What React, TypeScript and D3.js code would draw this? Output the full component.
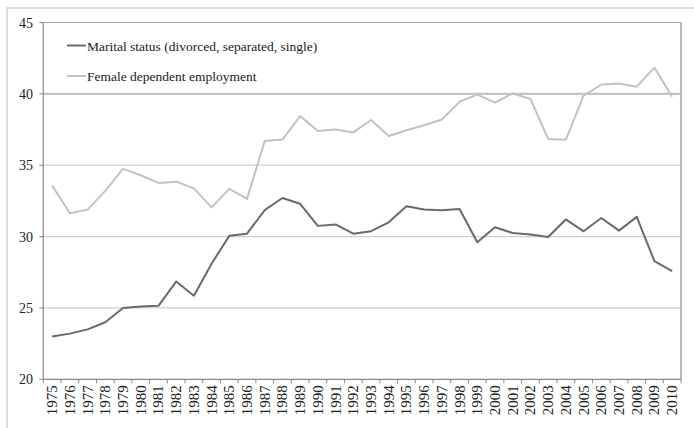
import React from "react";
import * as d3 from "d3";

const years: string[] = d3.range(1975, 2011).map(String);

const maritalStatus: number[] = [
  23.0, 23.2, 23.5, 24.0, 25.0, 25.1, 25.15, 26.85, 25.86, 28.1,
  30.05, 30.2, 31.85, 32.7, 32.3, 30.75, 30.85, 30.2, 30.38, 31.0,
  32.12, 31.9, 31.85, 31.93, 29.6, 30.65, 30.25, 30.15, 29.97, 31.2,
  30.37, 31.3, 30.42, 31.38, 28.28, 27.58,
];

const femaleEmployment: number[] = [
  33.57, 31.63, 31.89, 33.2, 34.74, 34.3, 33.76, 33.85, 33.38, 32.05,
  33.34, 32.64, 36.7, 36.8, 38.45, 37.4, 37.5, 37.3, 38.17, 37.05,
  37.45, 37.8, 38.2, 39.45, 39.95, 39.38, 40.03, 39.64, 36.84, 36.79,
  39.87, 40.65, 40.72, 40.5, 41.84, 39.8,
];

const yTicks: number[] = [20, 25, 30, 35, 40, 45];

const seriesNames = [
  "Marital status (divorced, separated, single)",
  "Female dependent employment",
];

const W = 694;
const H = 428;
const L = 43.3;
const R = 681;
const T = 22.5;
const B = 379.3;
const FONT = '"Liberation Serif", "DejaVu Serif", "Times New Roman", serif';

export default function App() {
  const x = d3.scaleBand<string>().domain(years).range([L, R]).padding(0);
  const y = d3.scaleLinear().domain([20, 45]).range([B, T]);
  const cx = (d: string) => (x(d) as number) + x.bandwidth() / 2;

  const line = d3
    .line<number>()
    .x((_, i) => cx(years[i]))
    .y((v) => y(v));

  const boundaries = d3.range(years.length + 1).map((i) => L + i * x.bandwidth());
  const txt = { fontFamily: FONT };

  return (
    <svg
      width={W}
      height={H}
      style={{ position: "absolute", left: 0, top: 0, background: "#fff", fontFamily: FONT }}
    >
      {/* outer frame */}
      <rect x={7} y={8} width={720} height={440} fill="none" stroke="#dcdcdc" strokeWidth={2} />

      {/* gridlines */}
      {yTicks
        .filter((t) => t > 20 && t < 45)
        .map((t) => (
          <line
            key={"g" + t}
            x1={L}
            x2={R}
            y1={y(t)}
            y2={y(t)}
            stroke={t === 40 ? "#c4c4c4" : "#cfcfcf"}
            strokeWidth={t === 40 ? 2.4 : 1.3}
          />
        ))}

      {/* plot border top & right */}
      <line x1={L} x2={R} y1={T} y2={T} stroke="#a8a8a8" strokeWidth={1.2} />
      <line x1={R} x2={R} y1={T} y2={B} stroke="#b8b8b8" strokeWidth={2} />

      {/* y axis */}
      <line x1={L} x2={L} y1={T} y2={B} stroke="#8a8a8a" strokeWidth={1.2} />
      {yTicks.map((t) => (
        <g key={"y" + t}>
          <line x1={L - 4} x2={L} y1={y(t)} y2={y(t)} stroke="#8a8a8a" strokeWidth={1} />
          <text x={33} y={y(t) + 5} textAnchor="end" fontSize={14} fill="#222" style={txt}>
            {t}
          </text>
        </g>
      ))}

      {/* x axis */}
      <line x1={L} x2={R} y1={B} y2={B} stroke="#8a8a8a" strokeWidth={1.2} />
      {boundaries.map((bx, i) => (
        <line key={"xt" + i} x1={bx} x2={bx} y1={B} y2={B + 4} stroke="#8a8a8a" strokeWidth={1} />
      ))}
      {years.map((yr) => (
        <text
          key={"xl" + yr}
          transform={`translate(${cx(yr) + 5},${B + 6}) rotate(-90)`}
          textAnchor="end"
          fontSize={15}
          fill="#222"
          style={txt}
        >
          {yr}
        </text>
      ))}

      {/* series */}
      <path d={line(femaleEmployment) || ""} fill="none" stroke="#c2c2c2" strokeWidth={2} strokeLinejoin="round" />
      <path d={line(maritalStatus) || ""} fill="none" stroke="#6a6a6a" strokeWidth={2} strokeLinejoin="round" />

      {/* legend */}
      <line x1={67} x2={86} y1={45.5} y2={45.5} stroke="#6a6a6a" strokeWidth={2} />
      <text x={87} y={50.5} fontSize={13.5} fill="#222" style={txt}>
        {seriesNames[0]}
      </text>
      <line x1={67} x2={86} y1={76} y2={76} stroke="#c2c2c2" strokeWidth={2} />
      <text x={87} y={81} fontSize={13.5} fill="#222" style={txt}>
        {seriesNames[1]}
      </text>
    </svg>
  );
}
